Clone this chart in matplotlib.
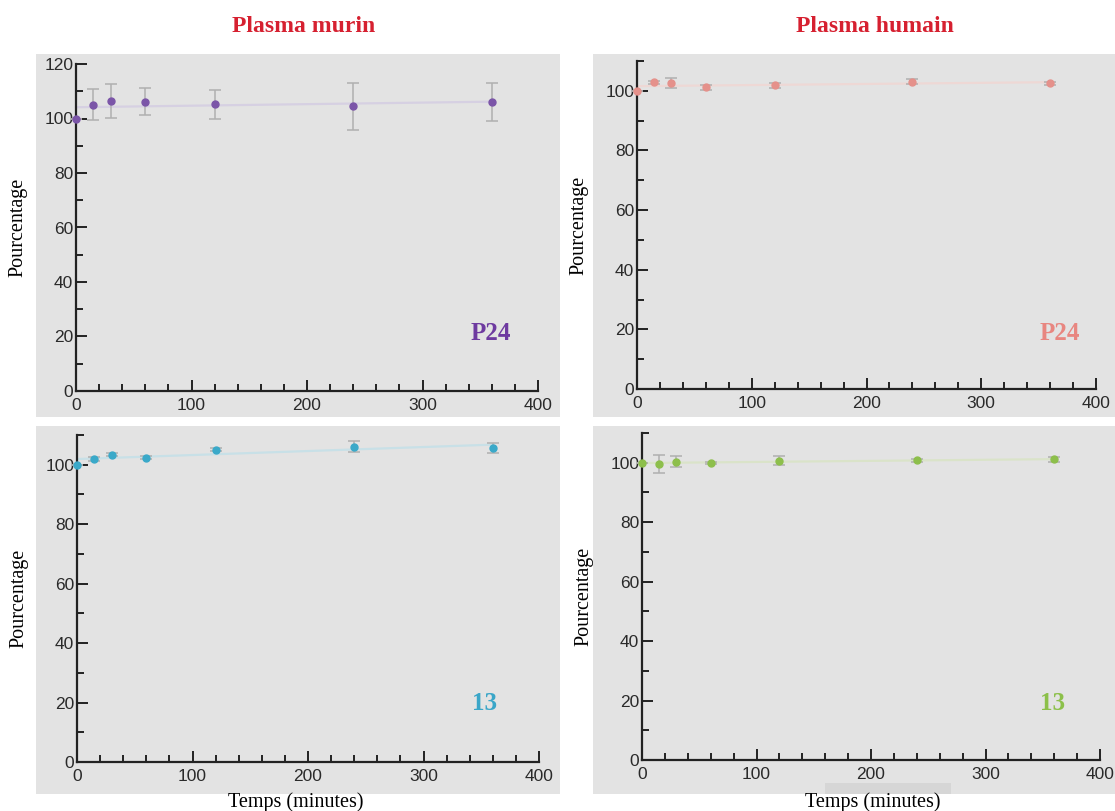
import numpy as np
import matplotlib
matplotlib.use("Agg")
import matplotlib.pyplot as plt
from matplotlib.patches import Rectangle
from matplotlib.ticker import MultipleLocator

# ---------------- data ----------------
temps = [0, 15, 30, 60, 120, 240, 360]

murin_p24 = [100.0, 105.0, 106.5, 106.2, 105.2, 104.5, 106.2]
murin_p24_err = [0.0, 5.7, 6.3, 5.0, 5.2, 8.7, 7.0]

humain_p24 = [100.0, 102.8, 102.6, 101.2, 101.8, 103.1, 102.5]
humain_p24_err = [0.0, 0.4, 1.7, 0.8, 0.7, 0.8, 0.5]

murin_13 = [100.0, 102.0, 103.4, 102.4, 105.0, 106.1, 105.6]
murin_13_err = [0.0, 0.6, 0.5, 0.5, 0.5, 1.9, 1.7]

humain_13 = [100.0, 99.5, 100.3, 99.9, 100.7, 100.8, 101.1]
humain_13_err = [0.0, 3.0, 1.9, 0.3, 1.5, 0.5, 0.7]

col_titles = ["Plasma murin", "Plasma humain"]
panel_labels = ["P24", "P24", "13", "13"]
ylabel = "Pourcentage"
xlabel = "Temps (minutes)"

# ---------------- layout ----------------
W, H = 1115, 811
fig = plt.figure(figsize=(W / 100, H / 100), dpi=100)
fig.patch.set_facecolor("white")

def fx(px):
    return px / W

def fy(py):
    return 1 - py / H

panel_bg = "#e3e3e3"
# gray screenshot panels (x0, y0, x1, y1) in pixels
panels = [(36, 54, 560, 417), (593, 54, 1115, 417),
          (36, 426, 560, 794), (593, 426, 1115, 794)]
for (x0, y0, x1, y1) in panels:
    fig.patches.append(Rectangle((fx(x0), fy(y1)), fx(x1) - fx(x0), fy(y0) - fy(y1),
                                 transform=fig.transFigure, facecolor=panel_bg,
                                 edgecolor="none", zorder=-10))
fig.patches.append(Rectangle((fx(825), fy(794)), fx(951) - fx(825), fy(783) - fy(794),
                             transform=fig.transFigure, facecolor="#d6d6d6",
                             edgecolor="none", zorder=-9))

# axes rectangles: (left, right, top, bottom) in pixels and ymax
axes_px = [(76, 538, 64, 391, 120), (637, 1096, 61, 389, 110),
           (77, 539, 435, 762, 110), (642, 1100, 433, 760, 110)]

series = [(murin_p24, murin_p24_err, "#7b55a8", "#d6d0e2"),
          (humain_p24, humain_p24_err, "#e5918b", "#eed8d5"),
          (murin_13, murin_13_err, "#3aa9c9", "#c8e0e7"),
          (humain_13, humain_13_err, "#8dbf4b", "#dae3c9")]

label_pos = [(491, 333), (1060, 333), (484, 704), (1053, 704)]
label_cols = ["#6e3aa0", "#e88680", "#3aa6c8", "#8cc04a"]

tick_font = ["Liberation Sans", "DejaVu Sans"]
serif_font = ["Liberation Serif", "DejaVu Serif"]

for i, ((l, r, t, b, ymax), (vals, errs, col, lcol)) in enumerate(zip(axes_px, series)):
    ax = fig.add_axes([fx(l), fy(b), fx(r) - fx(l), fy(t) - fy(b)])
    ax.set_zorder(1)
    ax.set_facecolor("none")
    ax.set_xlim(0, 400)
    ax.set_ylim(0, ymax)
    for s in ["top", "right"]:
        ax.spines[s].set_visible(False)
    for s in ["left", "bottom"]:
        ax.spines[s].set_color("#222222")
        ax.spines[s].set_linewidth(1.6)
    ax.xaxis.set_major_locator(MultipleLocator(100))
    ax.xaxis.set_minor_locator(MultipleLocator(20))
    ax.yaxis.set_major_locator(MultipleLocator(20))
    ax.yaxis.set_minor_locator(MultipleLocator(10))
    ax.tick_params(which="both", direction="in", color="#222222", width=1.4,
                   labelsize=12.5, labelcolor="#2a2a2a")
    ax.tick_params(which="major", length=8)
    ax.tick_params(which="minor", length=5)
    ax.tick_params(axis="x", which="major", pad=5)
    ax.tick_params(axis="y", which="major", pad=2)
    for lab in ax.get_xticklabels() + ax.get_yticklabels():
        lab.set_family(tick_font)

    # linear fit trend line
    coef = np.polyfit(temps, vals, 1)
    xs = np.array([temps[0], temps[-1]])
    ax.plot(xs, np.polyval(coef, xs), color=lcol, lw=1.6, zorder=2, clip_on=False)
    ax.errorbar(temps, vals, yerr=errs, fmt="none", ecolor="#b0b0b0",
                elinewidth=1.1, capsize=4.3, capthick=1.1, zorder=3, clip_on=False)
    ax.plot(temps, vals, "o", color=col, ms=5, zorder=4, clip_on=False)

    # panel label
    lx, ly = label_pos[i]
    fig.text(fx(lx), fy(ly), panel_labels[i], color=label_cols[i],
             fontsize=18, fontweight="bold", family=serif_font,
             ha="center", va="center", zorder=5)

    # y label
    fig.text(fx(l - 58), fy((t + b) / 2), ylabel, rotation=90, fontsize=14.5,
             family=serif_font, ha="center", va="center", color="black")

# column titles
fig.text(fx(304), fy(26), col_titles[0], color="#d62030", fontsize=17,
         fontweight="bold", family=serif_font, ha="center", va="center")
fig.text(fx(875), fy(26), col_titles[1], color="#d62030", fontsize=17,
         fontweight="bold", family=serif_font, ha="center", va="center")

# x labels
fig.text(fx(296), fy(802), xlabel, fontsize=14.5, family=serif_font,
         ha="center", va="center", color="black")
fig.text(fx(873), fy(802), xlabel, fontsize=14.5, family=serif_font,
         ha="center", va="center", color="black")

fig.savefig("out.png", dpi=100)
